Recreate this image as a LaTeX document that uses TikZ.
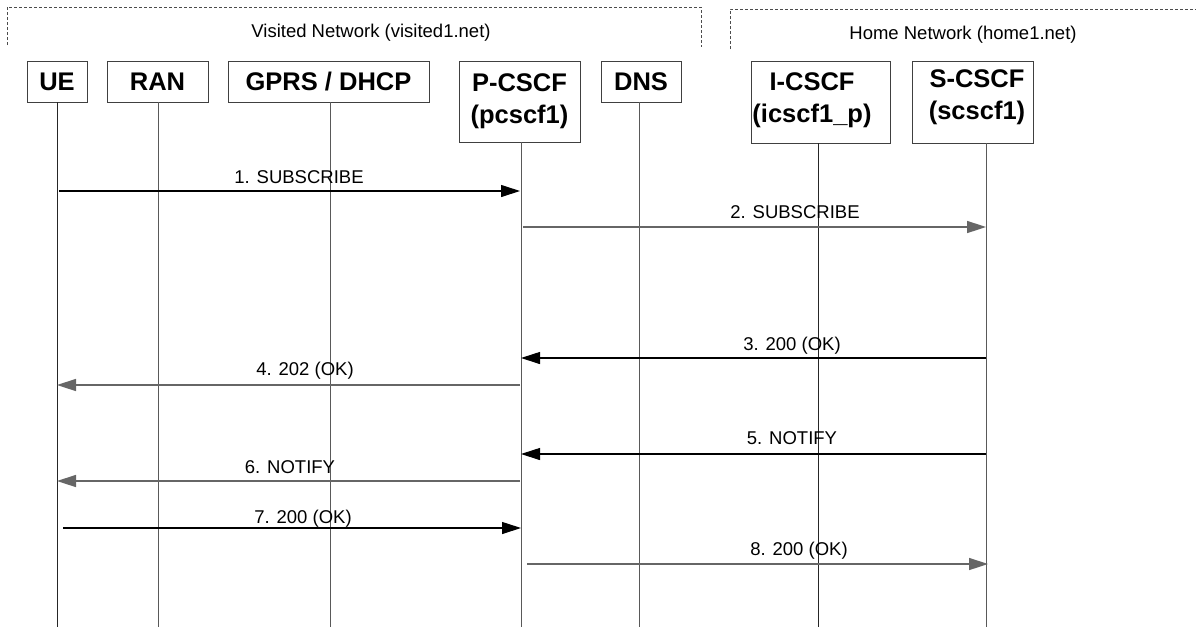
\documentclass[tikz,border=0pt]{standalone}
\usepackage{fontspec}
\setmainfont{Liberation Sans}
\usetikzlibrary{arrows.meta}
\begin{document}
\begin{tikzpicture}[x=1pt,y=-1pt,
  box/.style={draw=black!75, line width=0.9pt, rectangle, inner sep=0pt,
    font=\fontsize{25.5}{32}\selectfont\bfseries, align=center},
  boxtxt/.style={font=\fontsize{25.5}{32}\selectfont\bfseries, align=center, inner sep=0pt},
  life/.style={draw=black!65, line width=0.9pt},
  msg/.style={draw=black, line width=1.1pt, -{Triangle[length=19pt,width=12pt]}},
  msgg/.style={msg, draw=black!60, line width=1.5pt},
  lbl/.style={font=\fontsize{18.5}{22}\selectfont, inner sep=0pt, anchor=base},
  netbox/.style={draw=black!70, line width=0.8pt, dash pattern=on 3pt off 2pt},
  nettxt/.style={font=\fontsize{18.5}{22}\selectfont, inner sep=0pt}]
\useasboundingbox (0,0) rectangle (1196,627);

% network frames
\draw[netbox] (7,45) -- (7,7) -- (701,7) -- (701,47);
\draw[netbox] (730,49) -- (730,9) -- (1196,9);
\node[nettxt] (visited) at (371,33) {Visited Network (visited1.net)};
\node[nettxt] (home) at (963,35) {Home Network (home1.net)};

% entity boxes
\node[box, minimum width=60pt, minimum height=41pt] (ue) at (57,81.5) {UE};
\node[box, minimum width=101pt, minimum height=41pt] (ran) at (157.5,81.5) {RAN};
\node[box, minimum width=201pt, minimum height=41pt] (gprs) at (328.5,81.5) {GPRS / DHCP};
\node[box, minimum width=121pt, minimum height=81pt] (pcscf) at (519.5,101.5) {P-CSCF\\(pcscf1)};
\node[box, minimum width=80pt, minimum height=41pt] (dns) at (641,81.5) {DNS};
\node[box, minimum width=139pt, minimum height=82pt] (icscf) at (820.5,102) {};
\node[boxtxt] (icscfT) at (812,100) {I-CSCF\\(icscf1\_p)};
\node[box, minimum width=121pt, minimum height=82pt] (scscf) at (972.5,102) {};
\node[boxtxt] (scscfT) at (977,97) {S-CSCF\\(scscf1)};

% lifeline coordinates
\coordinate (ueA) at (57,102);    \coordinate (ueB) at (57,627);
\coordinate (ranA) at (158,102);  \coordinate (ranB) at (158,627);
\coordinate (gprsA) at (330,102); \coordinate (gprsB) at (330,627);
\coordinate (pA) at (521,142);    \coordinate (pB) at (521,627);
\coordinate (dnsA) at (639,102);  \coordinate (dnsB) at (639,627);
\coordinate (iA) at (818,143);    \coordinate (iB) at (818,627);
\coordinate (sA) at (986,143);    \coordinate (sB) at (986,627);
\draw[life, draw=black!85] (ueA) -- (ueB);
\draw[life] (ranA) -- (ranB);
\draw[life] (gprsA) -- (gprsB);
\draw[life] (pA) -- (pB);
\draw[life] (dnsA) -- (dnsB);
\draw[life, draw=black!85] (iA) -- (iB);
\draw[life] (sA) -- (sB);

% message end points
\coordinate (m1s) at (59,191);  \coordinate (m1e) at (520,191);
\coordinate (m2s) at (523,227); \coordinate (m2e) at (986,227);
\coordinate (m3s) at (986,358); \coordinate (m3e) at (521,358);
\coordinate (m4s) at (520,385); \coordinate (m4e) at (57,385);
\coordinate (m5s) at (986,454); \coordinate (m5e) at (521,454);
\coordinate (m6s) at (520,481); \coordinate (m6e) at (57,481);
\coordinate (m7s) at (63,528);  \coordinate (m7e) at (521,528);
\coordinate (m8s) at (527,564); \coordinate (m8e) at (988,564);

\draw[msg]  (m1s) -- (m1e);
\draw[msgg] (m2s) -- (m2e);
\draw[msg]  (m3s) -- (m3e);
\draw[msgg] (m4s) -- (m4e);
\draw[msg]  (m5s) -- (m5e);
\draw[msgg] (m6s) -- (m6e);
\draw[msg]  (m7s) -- (m7e);
\draw[msgg] (m8s) -- (m8e);

% message labels
\node[lbl] (l1) at (299,183.6) {1. SUBSCRIBE};
\node[lbl] (l2) at (795,218.6) {2. SUBSCRIBE};
\node[lbl] (l3) at (792,350.6) {3. 200 (OK)};
\node[lbl] (l4) at (305,375.6) {4. 202 (OK)};
\node[lbl] (l5) at (792,444.6) {5. NOTIFY};
\node[lbl] (l6) at (290,473.6) {6. NOTIFY};
\node[lbl] (l7) at (303,523.6) {7. 200 (OK)};
\node[lbl] (l8) at (799,555.6) {8. 200 (OK)};
\end{tikzpicture}
\end{document}
